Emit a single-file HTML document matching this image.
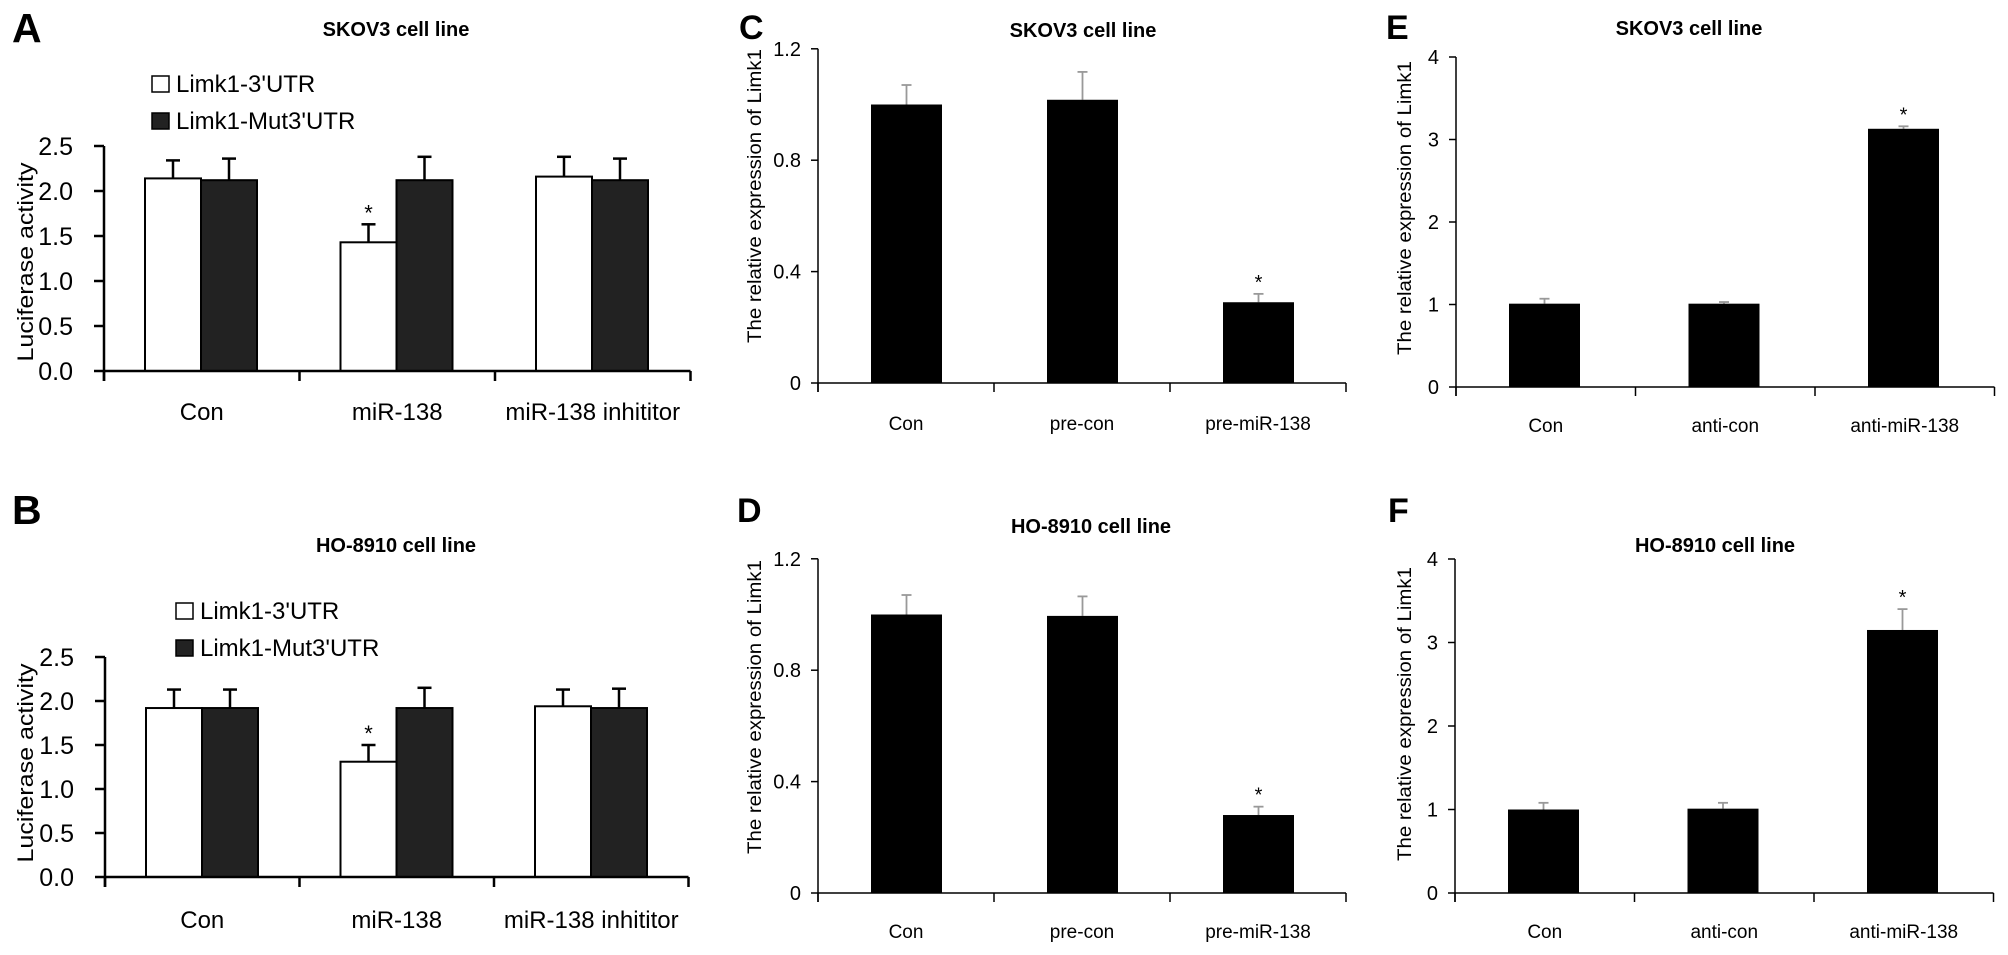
<!DOCTYPE html>
<html><head><meta charset="utf-8"><style>
html,body{margin:0;padding:0;background:#fff;}
svg{display:block;font-family:"Liberation Sans",Arial,sans-serif;}
</style></head><body>
<svg id="fig" width="2008" height="955" viewBox="0 0 2008 955" xmlns="http://www.w3.org/2000/svg">
<rect width="2008" height="955" fill="#fff"/>
</svg>
<script>
// ---------- data ----------
const catsLuc = ["Con", "miR-138", "miR-138 inhititor"];
const ticksLuc = [0, 0.5, 1.0, 1.5, 2.0, 2.5];
const tickLabelsLuc = ["0.0", "0.5", "1.0", "1.5", "2.0", "2.5"];
const aWhite = [2.14, 1.43, 2.16];
const aWhiteErr = [0.20, 0.20, 0.22];
const aBlack = [2.12, 2.12, 2.12];
const aBlackErr = [0.24, 0.26, 0.24];
const bWhite = [1.92, 1.31, 1.94];
const bWhiteErr = [0.21, 0.19, 0.19];
const bBlack = [1.92, 1.92, 1.92];
const bBlackErr = [0.21, 0.23, 0.22];
const catsC = ["Con", "pre-con", "pre-miR-138"];
const catsE = ["Con", "anti-con", "anti-miR-138"];
const ticksC = [0, 0.4, 0.8, 1.2];
const tickLabelsC = ["0", "0.4", "0.8", "1.2"];
const ticksE = [0, 1, 2, 3, 4];
const tickLabelsE = ["0", "1", "2", "3", "4"];
const cVals = [1.0, 1.017, 0.29];
const cErr = [0.07, 0.10, 0.03];
const dVals = [1.0, 0.995, 0.28];
const dErr = [0.07, 0.07, 0.03];
const eVals = [1.01, 1.01, 3.13];
const eErr = [0.06, 0.02, 0.03];
const fVals = [1.0, 1.01, 3.15];
const fErr = [0.08, 0.07, 0.25];
const starsLuc = [false, true, false];
const starsExp = [false, false, true];

const NS = "http://www.w3.org/2000/svg";
const svg = document.getElementById("fig");
function mk(tag, attrs, parent, text) {
  const e = document.createElementNS(NS, tag);
  for (const k in attrs) e.setAttribute(k, attrs[k]);
  if (text !== undefined) e.textContent = text;
  (parent || svg).appendChild(e);
  return e;
}

function lucPanel(cfg) {
  const g = mk("g", {});
  
  
  const x0 = cfg.x0, y0 = cfg.y0, ppu = cfg.ppu, gw = cfg.gw;
  const yS = v => y0 - v * ppu;
  const ytop = yS(2.5);
  const L = mk("text", {x: 12, y: cfg.letterY, "font-size": 41, "font-weight": "bold"}, g, cfg.letter);
  
  
  const T = mk("text", {x: 396, y: cfg.titleY, "font-size": 20, "font-weight": "bold", "text-anchor": "middle"}, g, cfg.title);
  
  
  const lx = cfg.legendX;
  const lb1 = mk("rect", {x: lx, y: cfg.legendY, width: 17, height: 16, fill: "#fff", stroke: "#000", "stroke-width": 1.5}, g);
  
  
  const lt1 = mk("text", {x: lx + 24, y: cfg.legendY + 16, "font-size": 24}, g, "Limk1-3'UTR");
  
  
  const lb2 = mk("rect", {x: lx, y: cfg.legendY + 37, width: 17, height: 16, fill: "#222", stroke: "#000", "stroke-width": 1.5}, g);
  
  
  const lt2 = mk("text", {x: lx + 24, y: cfg.legendY + 53, "font-size": 24}, g, "Limk1-Mut3'UTR");
  
  
  const yl = mk("text", {x: 0, y: 0, "font-size": 22, "text-anchor": "middle", textLength: 199, lengthAdjust: "spacingAndGlyphs", transform: `translate(33,${cfg.ylabC}) rotate(-90)`}, g, "Luciferase  activity");
  
  
  const ya = mk("line", {x1: x0, y1: ytop, x2: x0, y2: y0 + 10, stroke: "#000", "stroke-width": 2.5}, g);
  
  
  ticksLuc.forEach((t, i) => {
    const tk = mk("line", {x1: x0 - 10, y1: yS(t), x2: x0, y2: yS(t), stroke: "#000", "stroke-width": 2.5}, g);
    
    
    const tl = mk("text", {x: x0 - 31, y: yS(t) + 9, "font-size": 25, "text-anchor": "end"}, g, tickLabelsLuc[i]);
    
    
  });
  catsLuc.forEach((c, i) => {
    const gx = x0 + i * gw;
    const wx = gx + 41, bw = 56;
    const drawBar = (v, e, fill, nm, bx) => {
      const er = mk("line", {x1: bx + bw / 2, y1: yS(v), x2: bx + bw / 2, y2: yS(v + e), stroke: "#000", "stroke-width": 2.5}, g);
      
      
      const ec = mk("line", {x1: bx + bw / 2 - 7, y1: yS(v + e), x2: bx + bw / 2 + 7, y2: yS(v + e), stroke: "#000", "stroke-width": 2.5}, g);
      
      
      const r = mk("rect", {x: bx, y: yS(v), width: bw, height: v * ppu, fill: fill, stroke: "#000", "stroke-width": 2}, g);
      
      
    };
    drawBar(cfg.white[i], cfg.whiteErr[i], "#fff", 'bar-3utr-' + i, wx);
    drawBar(cfg.black[i], cfg.blackErr[i], "#222", 'bar-mut3utr-' + i, wx + bw);
    if (starsLuc[i]) {
      const s = mk("text", {x: wx + bw / 2, y: yS(cfg.white[i] + cfg.whiteErr[i]) - 4, "font-size": 22, "text-anchor": "middle"}, g, "*");
      
      
    }
    const cl = mk("text", {x: gx + gw / 2, y: cfg.catY, "font-size": 24, "text-anchor": "middle"}, g, c);
    
    
  });
  const xa = mk("line", {x1: x0, y1: y0, x2: x0 + 3 * gw, y2: y0, stroke: "#000", "stroke-width": 2.5}, g);
  
  
  for (let i = 0; i <= 3; i++) {
    const tk = mk("line", {x1: x0 + i * gw, y1: y0, x2: x0 + i * gw, y2: y0 + 10, stroke: "#000", "stroke-width": 2.5}, g);
    
    
  }
}

function expPanel(cfg) {
  const g = mk("g", {});
  
  
  const x0 = cfg.x0, y0 = cfg.y0, ppu = cfg.ppu, gw = cfg.gw, max = cfg.ticks[cfg.ticks.length - 1];
  const yS = v => y0 - v * ppu;
  const L = mk("text", {x: cfg.letterX, y: cfg.letterY, "font-size": 34, "font-weight": "bold"}, g, cfg.letter);
  
  
  const T = mk("text", {x: cfg.titleX, y: cfg.titleY, "font-size": 20, "font-weight": "bold", "text-anchor": "middle"}, g, cfg.title);
  
  
  const yl = mk("text", {x: 0, y: 0, "font-size": 19, "text-anchor": "middle", textLength: 294, lengthAdjust: "spacingAndGlyphs", transform: `translate(${cfg.ylabX},${cfg.ylabC}) rotate(-90)`}, g, "The relative expression of Limk1");
  
  
  const ya = mk("line", {x1: x0, y1: yS(max), x2: x0, y2: y0 + 9, stroke: "#000", "stroke-width": 1.5}, g);
  
  
  cfg.ticks.forEach((t, i) => {
    const tk = mk("line", {x1: x0 - 7, y1: yS(t), x2: x0, y2: yS(t), stroke: "#000", "stroke-width": 1.5}, g);
    
    
    const tl = mk("text", {x: x0 - 17, y: yS(t) + 7, "font-size": 20, "text-anchor": "end"}, g, cfg.tickLabels[i]);
    
    
  });
  cfg.cats.forEach((c, i) => {
    const gx = x0 + i * gw, bw = 71, bx = gx + 53;
    const v = cfg.vals[i], e = cfg.err[i];
    const er = mk("line", {x1: bx + bw / 2, y1: yS(v), x2: bx + bw / 2, y2: yS(v + e), stroke: "#999", "stroke-width": 1.8}, g);
    
    
    const ec = mk("line", {x1: bx + bw / 2 - 5, y1: yS(v + e), x2: bx + bw / 2 + 5, y2: yS(v + e), stroke: "#999", "stroke-width": 1.8}, g);
    
    
    const r = mk("rect", {x: bx, y: yS(v), width: bw, height: v * ppu, fill: "#000"}, g);
    
    
    if (starsExp[i]) {
      const s = mk("text", {x: bx + bw / 2, y: yS(v + e) - 5, "font-size": 20, "text-anchor": "middle"}, g, "*");
      
      
    }
    const cl = mk("text", {x: gx + gw / 2, y: cfg.catY, "font-size": 19, "text-anchor": "middle"}, g, c);
    
    
  });
  const xa = mk("line", {x1: x0, y1: y0, x2: x0 + 3 * gw, y2: y0, stroke: "#000", "stroke-width": 1.5}, g);
  
  
  for (let i = 0; i <= 3; i++) {
    const tk = mk("line", {x1: x0 + i * gw, y1: y0, x2: x0 + i * gw, y2: y0 + 9, stroke: "#000", "stroke-width": 1.5}, g);
    
    
  }
}

lucPanel({name: "panel-a", letter: "A", letterY: 42, title: "SKOV3 cell line", titleY: 36, legendX: 152, legendY: 76,
  x0: 104, y0: 371, ppu: 90, gw: 195.5, ylabC: 262, catY: 420,
  white: aWhite, whiteErr: aWhiteErr, black: aBlack, blackErr: aBlackErr});
lucPanel({name: "panel-b", letter: "B", letterY: 524, title: "HO-8910 cell line", titleY: 552, legendX: 176, legendY: 603,
  x0: 105, y0: 877, ppu: 88, gw: 194.5, ylabC: 763, catY: 928,
  white: bWhite, whiteErr: bWhiteErr, black: bBlack, blackErr: bBlackErr});

expPanel({name: "panel-c", letter: "C", letterX: 739, letterY: 39, title: "SKOV3 cell line", titleX: 1083, titleY: 37,
  x0: 818, y0: 383, ppu: 278.5, gw: 176, ticks: ticksC, tickLabels: tickLabelsC, cats: catsC, vals: cVals, err: cErr,
  ylabX: 761, ylabC: 196, catY: 430});
expPanel({name: "panel-d", letter: "D", letterX: 737, letterY: 522, title: "HO-8910 cell line", titleX: 1091, titleY: 533,
  x0: 818, y0: 893, ppu: 278.5, gw: 176, ticks: ticksC, tickLabels: tickLabelsC, cats: catsC, vals: dVals, err: dErr,
  ylabX: 761, ylabC: 707, catY: 938});
expPanel({name: "panel-e", letter: "E", letterX: 1386, letterY: 39, title: "SKOV3 cell line", titleX: 1689, titleY: 35,
  x0: 1456, y0: 387, ppu: 82.5, gw: 179.5, ticks: ticksE, tickLabels: tickLabelsE, cats: catsE, vals: eVals, err: eErr,
  ylabX: 1411, ylabC: 208, catY: 432});
expPanel({name: "panel-f", letter: "F", letterX: 1388, letterY: 522, title: "HO-8910 cell line", titleX: 1715, titleY: 552,
  x0: 1455, y0: 893, ppu: 83.5, gw: 179.5, ticks: ticksE, tickLabels: tickLabelsE, cats: catsE, vals: fVals, err: fErr,
  ylabX: 1411, ylabC: 714, catY: 938});
</script>
</body></html>
